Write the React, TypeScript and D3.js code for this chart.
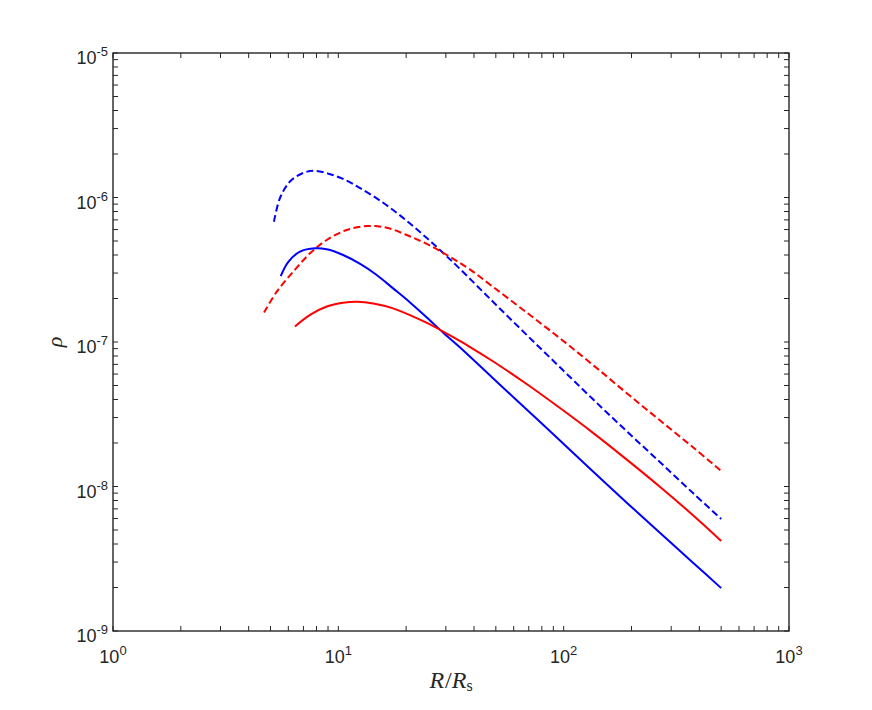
import React from 'react'
import * as d3 from 'd3'

const W = 872
const H = 710
const M = { left: 113, right: 789, top: 53, bottom: 631 }
const AXIS = '#262626'

// values (log-log), R/Rs vs rho
const blueDashedR = [5.18, 5.51, 6.10, 6.99, 7.88, 9.19, 10.9, 12.5, 14.8, 17.5, 20.8, 24.7, 29.2, 34.7, 48.7, 68.5, 96.3, 135, 190, 268, 376, 500]
const blueDashedRho = [6.80e-7, 9.92e-7, 1.29e-6, 1.48e-6, 1.53e-6, 1.45e-6, 1.31e-6, 1.16e-6, 9.87e-7, 8.19e-7, 6.61e-7, 5.24e-7, 4.13e-7, 3.20e-7, 1.89e-7, 1.12e-7, 6.68e-8, 4.01e-8, 2.42e-8, 1.47e-8, 8.97e-9, 5.96e-9]

const blueSolidR = [5.55, 6.00, 6.76, 7.88, 8.88, 10.5, 12.5, 14.8, 17.5, 20.8, 24.7, 29.2, 34.7, 48.7, 68.5, 96.3, 135, 190, 268, 376, 500]
const blueSolidRho = [2.86e-7, 3.59e-7, 4.22e-7, 4.45e-7, 4.38e-7, 4.00e-7, 3.47e-7, 2.91e-7, 2.35e-7, 1.88e-7, 1.48e-7, 1.16e-7, 9.16e-8, 5.59e-8, 3.41e-8, 2.08e-8, 1.27e-8, 7.75e-9, 4.77e-9, 2.96e-9, 1.98e-9]

const redDashedR = [4.68, 5.33, 6.31, 7.49, 8.88, 10.9, 13.4, 16.4, 20.1, 24.7, 30.3, 37.8, 48.7, 68.5, 96.3, 135, 190, 268, 376, 500]
const redDashedRho = [1.60e-7, 2.23e-7, 3.07e-7, 4.11e-7, 5.08e-7, 5.96e-7, 6.35e-7, 6.18e-7, 5.50e-7, 4.77e-7, 4.00e-7, 3.23e-7, 2.40e-7, 1.60e-7, 1.06e-7, 6.93e-8, 4.44e-8, 2.86e-8, 1.86e-8, 1.28e-8]

const redSolidR = [6.42, 7.49, 8.88, 10.5, 12.1, 14.3, 17.5, 21.5, 26.4, 29.2, 37.8, 48.7, 68.5, 96.3, 135, 190, 268, 376, 500]
const redSolidRho = [1.28e-7, 1.54e-7, 1.76e-7, 1.87e-7, 1.90e-7, 1.85e-7, 1.71e-7, 1.50e-7, 1.29e-7, 1.18e-7, 9.38e-8, 7.33e-8, 5.12e-8, 3.49e-8, 2.35e-8, 1.54e-8, 9.92e-9, 6.30e-9, 4.20e-9]

const xExps = [0, 1, 2, 3]
const yExps = [-9, -8, -7, -6, -5]

const series = [
  { r: blueDashedR, rho: blueDashedRho, color: '#0000FF', dash: '7,3.5' },
  { r: redDashedR, rho: redDashedRho, color: '#FF0000', dash: '7,3.5' },
  { r: blueSolidR, rho: blueSolidRho, color: '#0000FF', dash: null },
  { r: redSolidR, rho: redSolidRho, color: '#FF0000', dash: null },
]

const TICK = 5
const SANS = 'Liberation Sans, Arial, Helvetica, sans-serif'
const SERIF = 'Liberation Serif, DejaVu Serif, Times New Roman, serif'

export default function App() {
  const x = d3.scaleLog().domain([1, 1000]).range([M.left, M.right])
  const y = d3.scaleLog().domain([1e-9, 1e-5]).range([M.bottom, M.top])

  const line = d3
    .line<[number, number]>()
    .x(d => x(d[0]))
    .y(d => y(d[1]))
    .curve(d3.curveCatmullRom.alpha(0.5))

  const xTicks = x.ticks()
  const yTicks = y.ticks()

  return (
    <svg
      width={W}
      height={H}
      style={{ position: 'absolute', left: 0, top: 0, background: '#fff' }}
    >
      <rect x={0} y={0} width={W} height={H} fill="#fff" />

      {/* curves */}
      <g fill="none" strokeWidth={2}>
        {series.map((s, i) => (
          <path
            key={i}
            d={line(s.r.map((r, j) => [r, s.rho[j]] as [number, number])) || ''}
            stroke={s.color}
            strokeDasharray={s.dash || undefined}
          />
        ))}
      </g>

      {/* ticks on all four sides, pointing inward */}
      <g stroke={AXIS} strokeWidth={1}>
        {xTicks.map((t, i) => (
          <g key={'x' + i}>
            <line x1={x(t)} x2={x(t)} y1={M.bottom} y2={M.bottom - TICK} />
            <line x1={x(t)} x2={x(t)} y1={M.top} y2={M.top + TICK} />
          </g>
        ))}
        {yTicks.map((t, i) => (
          <g key={'y' + i}>
            <line x1={M.left} x2={M.left + TICK} y1={y(t)} y2={y(t)} />
            <line x1={M.right} x2={M.right - TICK} y1={y(t)} y2={y(t)} />
          </g>
        ))}
      </g>

      <rect
        x={M.left}
        y={M.top}
        width={M.right - M.left}
        height={M.bottom - M.top}
        fill="none"
        stroke={AXIS}
        strokeWidth={1.4}
      />

      {/* tick labels */}
      <g fill={AXIS} fontFamily={SANS}>
        {xExps.map(e => (
          <text key={'xl' + e} x={x(Math.pow(10, e))} y={663} textAnchor="middle" fontSize={18}>
            10<tspan dy={-8} fontSize={13}>{e}</tspan>
          </text>
        ))}
        {yExps.map(e => (
          <text key={'yl' + e} x={M.left - 5} y={y(Math.pow(10, e)) + 11} textAnchor="end" fontSize={18}>
            10<tspan dy={-8} fontSize={13}>{e}</tspan>
          </text>
        ))}
      </g>

      {/* axis labels */}
      <text x={(M.left + M.right) / 2} y={688} textAnchor="middle" fontFamily={SERIF} fontSize={24} fill={AXIS}>
        <tspan fontStyle="italic">R</tspan>
        <tspan dx={1}>/</tspan>
        <tspan fontStyle="italic">R</tspan>
        <tspan fontSize={16} dy={3}>s</tspan>
      </text>
      <text
        transform={`translate(62,${(M.top + M.bottom) / 2}) rotate(-90)`}
        textAnchor="middle"
        fontFamily={SERIF}
        fontStyle="italic"
        fontSize={22}
        fill={AXIS}
      >
        ρ
      </text>
    </svg>
  )
}
